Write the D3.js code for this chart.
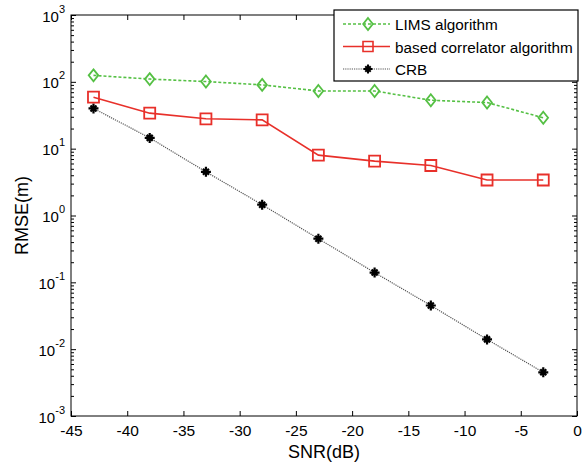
<!DOCTYPE html>
<html><head><meta charset="utf-8">
<script src="https://cdn.jsdelivr.net/npm/d3@7"></script>
<style>body{margin:0;background:#fff}svg{display:block}text{font-family:"Liberation Sans",Arial,Helvetica,sans-serif}</style>
</head><body><svg id="c" width="586" height="465"></svg>
<script>
const snr = [-43, -38, -33, -28, -23, -18, -13, -8, -3];
const limsValues = [125, 110, 101, 90, 73, 73, 53, 49, 29];
const corrValues = [59, 34, 28, 27, 8.0, 6.5, 5.6, 3.4, 3.4];
const crbValues = [40, 14.5, 4.5, 1.45, 0.45, 0.14, 0.045, 0.014, 0.0045];
const xTicks = [-45, -40, -35, -30, -25, -20, -15, -10, -5, 0];
const yDecades = [-3, -2, -1, 0, 1, 2, 3];
const seriesNames = ["LIMS algorithm", "based correlator algorithm", "CRB"];

const svg = d3.select("#c");
const L = 71, R = 577, T = 15, B = 416;
const x = d3.scaleLinear().domain([-45, 0]).range([L, R]);
const y = d3.scaleLog().domain([1e-3, 1e3]).range([B, T]);

const minor = [];
for (let d = -3; d < 3; d++) for (let m = 2; m <= 9; m++) minor.push(m * Math.pow(10, d));
const major = yDecades.map(d => Math.pow(10, d));

svg.append("rect").attr("x", L).attr("y", T).attr("width", R - L).attr("height", B - T)
  .attr("fill", "none").attr("stroke", "#000").attr("stroke-width", 1);

function styleAxis(g) { g.select(".domain").remove(); g.selectAll("line").attr("stroke", "#000"); }

const gxb = svg.append("g").attr("transform", `translate(0,${B})`)
  .call(d3.axisBottom(x).tickValues(xTicks).tickSize(-5).tickPadding(9).tickFormat(d => d));
styleAxis(gxb);
gxb.selectAll("text").attr("font-size", 15.5).attr("fill", "#000");
const gxt = svg.append("g").attr("transform", `translate(0,${T})`)
  .call(d3.axisTop(x).tickValues(xTicks).tickSize(-5).tickFormat(""));
styleAxis(gxt);

function yAxes(side) {
  const X = side === "left" ? L : R;
  const mk = side === "left" ? d3.axisLeft : d3.axisRight;
  const g1 = svg.append("g").attr("transform", `translate(${X},0)`)
    .call(mk(y).tickValues(major).tickSize(-5).tickFormat(""));
  styleAxis(g1);
  const g2 = svg.append("g").attr("transform", `translate(${X},0)`)
    .call(mk(y).tickValues(minor).tickSize(-3).tickFormat(""));
  styleAxis(g2);
  return g1;
}
const gyl = yAxes("left");
yAxes("right");
gyl.selectAll(".tick").each(function(d) {
  const t = d3.select(this).append("text").attr("x", -6).attr("y", 6)
    .attr("text-anchor", "end").attr("fill", "#000").attr("font-size", 15);
  t.append("tspan").text("10");
  t.append("tspan").attr("dy", -9).attr("font-size", 11).text(Math.round(Math.log10(d)));
});

svg.append("text").attr("x", 324).attr("y", 458).attr("text-anchor", "middle")
  .attr("font-size", 18).text("SNR(dB)");
svg.append("text").attr("transform", `translate(28,${(T + B) / 2}) rotate(-90)`)
  .attr("text-anchor", "middle").attr("font-size", 18).text("RMSE(m)");

const line = d3.line().x(d => x(d[0])).y(d => y(d[1]));
const green = "#55c044", red = "#e8302a";

const diamond = s => `M0,${-s}L${s*0.8},0L0,${s}L${-s*0.8},0Z`;
const square = s => `M${-s},${-s}H${s}V${s}H${-s}Z`;
const star = s => `M${-s},0H${s}M0,${-s}V${s}M${-s*0.6},${-s*0.6}L${s*0.6},${s*0.6}M${-s*0.6},${s*0.6}L${s*0.6},${-s*0.6}`;

function drawSeries(vals, color, dash, width, markerPath, mStroke, mColor) {
  const data = snr.map((s, i) => [s, vals[i]]);
  svg.append("path").datum(data).attr("d", line).attr("fill", "none")
    .attr("stroke", color).attr("stroke-width", width).attr("stroke-dasharray", dash);
  svg.selectAll(null).data(data).enter().append("path")
    .attr("transform", d => `translate(${x(d[0])},${y(d[1])})`)
    .attr("d", markerPath).attr("fill", "none").attr("stroke", mColor).attr("stroke-width", mStroke);
}
drawSeries(crbValues, "#555", "1.2,1", 1.2, star(5), 2.2, "#000");
drawSeries(corrValues, red, null, 1.6, square(5.5), 1.8, red);
drawSeries(limsValues, green, "3,2", 1.6, diamond(6), 1.8, green);

const lg = svg.append("g");
lg.append("rect").attr("x", 334).attr("y", 10).attr("width", 244).attr("height", 71)
  .attr("fill", "#fff").attr("stroke", "#000").attr("stroke-width", 1.2);
const rows = [
  {name: seriesNames[0], color: green, dash: "3,2", m: diamond(6), ms: 1.8, mc: green, w: 1.6},
  {name: seriesNames[1], color: red, dash: null, m: square(5), ms: 1.6, mc: red, w: 1.6},
  {name: seriesNames[2], color: "#555", dash: "1.2,1", m: star(4.5), ms: 2, mc: "#000", w: 1.2}
];
rows.forEach((r, i) => {
  const yy = 24 + i * 22.5;
  lg.append("line").attr("x1", 343).attr("x2", 390).attr("y1", yy).attr("y2", yy)
    .attr("stroke", r.color).attr("stroke-width", r.w).attr("stroke-dasharray", r.dash);
  lg.append("path").attr("transform", `translate(368,${yy})`).attr("d", r.m)
    .attr("fill", "none").attr("stroke", r.mc).attr("stroke-width", r.ms);
  lg.append("text").attr("x", 395).attr("y", yy + 6).attr("font-size", 15.3).text(r.name);
});
</script></body></html>
